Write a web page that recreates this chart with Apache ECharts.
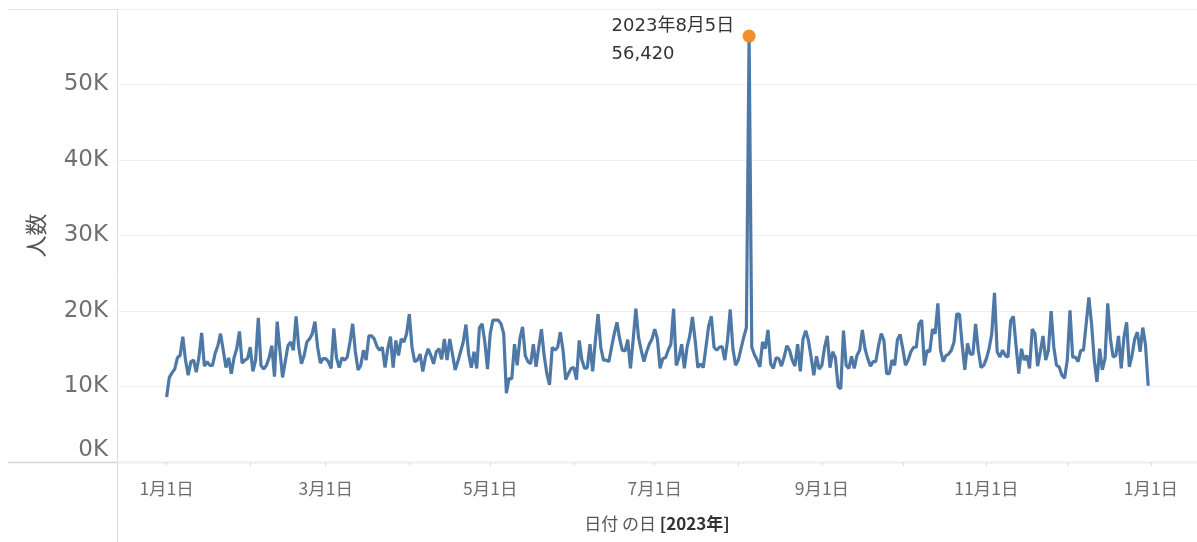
<!DOCTYPE html>
<html><head><meta charset="utf-8">
<script src="https://cdn.jsdelivr.net/npm/echarts@6/dist/echarts.min.js"></script>
<style>html,body{margin:0;padding:0;background:#fff}#c{width:1197px;height:542px}</style>
</head><body><div id="c"></div>
<script>
// Daily visitors (人数), 2023 — one array per month
const year = 2023;
const jan = [8600,11200,11800,12300,13800,14100,16600,13500,11500,13300,13500,11900,13900,17100,12700,13300,12800,12800,14400,15400,17000,14800,12500,13800,11700,13800,15000,17300,13100,13500,13700];
const feb = [15200,12000,13500,19100,12800,12300,12800,13800,15400,11300,18600,14800,11200,13300,15400,15900,14800,19300,15200,13000,14100,15900,16300,17000,18600,15200,13100,13700];
const mar = [13700,13300,12400,17700,13800,12500,13800,13500,13900,15900,18300,14600,12200,12800,14800,13500,16700,16700,16300,15300,14800,15200,12500,15000,16600,12500,16100,14100,16300,15900,17000];
const apr = [19600,15200,13300,13500,14300,12000,13900,15000,14100,13000,14600,15000,13600,16300,13500,16300,14300,12200,13300,14600,15900,18200,14300,12500,14600,12400,17800,18300,15900,12300];
const may = [17000,18800,18800,18800,18300,17000,9100,11100,11000,15600,12800,16300,17900,14100,13300,13000,15600,12600,15200,17600,14100,11700,10200,15200,14800,15200,17200,14800,10900,11700,12400];
const jun = [12500,10900,16100,13500,12400,12500,15600,12000,16100,19600,15200,13500,13500,13300,15200,17000,18500,16300,14800,14700,16200,12400,16100,20300,16500,14800,13300,14600,15600,16300];
const jul = [17600,16300,12400,13700,13800,14800,15600,20300,12800,13800,15600,12400,15200,16700,19200,16100,12500,13000,12500,15200,18000,19300,15200,14800,15200,15300,13500,16100,20200,15000,12800];
const aug = [13500,15000,16500,17800,56420,15200,14200,13500,12600,15900,15000,17500,13000,12400,13800,13700,12700,13900,15400,14800,13500,12700,15600,12000,16300,17400,16100,13900,11500,14000,12300];
const sep = [12800,15200,16700,12500,14600,13800,10000,9700,17400,12800,12400,14000,12400,14100,14800,17500,15000,13700,12700,13300,13300,15400,17000,16100,11700,11700,13500,12800,16200,16900];
const oct = [15000,12800,13500,14600,15200,15200,18300,18800,12800,14800,14600,17600,17000,21000,14800,13300,14100,14300,14800,15900,19600,19600,15600,12200,15700,14300,14300,18300,14800,12500,12800];
const nov = [13700,15000,17000,22400,14600,13900,14800,14100,13900,18700,19300,15400,11700,15000,13500,14100,12400,17600,17000,12700,14600,16700,13500,14800,20000,15200,12800,12600,11500,11100];
const dec = [13500,20100,13900,13900,13300,14800,14800,18300,21800,18300,13500,10600,15000,12200,13700,21000,16300,13900,14100,16700,12400,16500,18500,12600,14100,16300,17200,14600,17800,15500,10100];
const months = [jan, feb, mar, apr, may, jun, jul, aug, sep, oct, nov, dec];

const xLabelDates = ['2023-01-01','2023-03-01','2023-05-01','2023-07-01','2023-09-01','2023-11-01','2024-01-01'];
const xLabelTexts = ['1月1日','3月1日','5月1日','7月1日','9月1日','11月1日','1月1日'];
const xTickDates = ['2023-01-01','2023-02-01','2023-03-01','2023-04-01','2023-05-01','2023-06-01','2023-07-01','2023-08-01','2023-09-01','2023-10-01','2023-11-01','2023-12-01','2024-01-01'];
const yLabelValues = [0,10000,20000,30000,40000,50000];
const yLabelTexts = ['0K','10K','20K','30K','40K','50K'];

const DAY = 86400000;
const startUTC = Date.UTC(year,0,1);
function dayIndex(s){const p=s.split('-').map(Number);return Math.round((Date.UTC(p[0],p[1]-1,p[2])-startUTC)/DAY);}
const seriesData = [];
let di0 = 0;
months.forEach(arr=>arr.forEach(v=>{ seriesData.push([di0, v]); di0++; }));
let peak = seriesData[0];
seriesData.forEach(p=>{ if(p[1]>peak[1]) peak=p; });
const labelDays = xLabelDates.map(dayIndex);
const tickDays = xTickDates.map(dayIndex);

const latin = '"DejaVu Sans", "Noto Sans CJK JP", sans-serif';
const cjk = '"Noto Sans CJK JP", "DejaVu Sans", sans-serif';

const chart = echarts.init(document.getElementById('c'), null, {renderer:'canvas'});
chart.setOption({
  animation:false,
  backgroundColor:'#ffffff',
  grid:{left:117, right:0, top:9, bottom:80, containLabel:false},
  xAxis:{
    type:'value',
    min: -18.4,
    max: 382.1,
    axisLine:{show:false},
    axisTick:{show:true, customValues: tickDays, length:4, lineStyle:{color:'#dcdcdc'}},
    splitLine:{show:false},
    axisLabel:{
      customValues: labelDays,
      formatter: v => { const i = labelDays.indexOf(v); return i>=0 ? xLabelTexts[i] : ''; },
      color:'#6e6e6e', fontSize:17.5, fontFamily: cjk, margin:18
    },
    name:'{a|日付 の日 }{b|[2023年]}',
    nameLocation:'middle', nameGap:53,
    nameTextStyle:{
      rich:{
        a:{fontSize:17, color:'#555', fontFamily: cjk},
        b:{fontSize:17, color:'#333', fontWeight:'bold', fontFamily: cjk}
      }
    }
  },
  yAxis:{
    type:'value', min:0, max:60000, interval:10000,
    axisLine:{show:false},
    axisTick:{show:true, length:4, lineStyle:{color:'#ececec'}},
    splitLine:{show:true, lineStyle:{color:'#efefef', width:1}},
    axisLabel:{
      margin:9,
      formatter: v => { const i = yLabelValues.indexOf(v); if(i<0) return ''; return v===0 ? '{z|'+yLabelTexts[i]+'}' : yLabelTexts[i]; },
      color:'#707070', fontSize:23, fontFamily: latin,
      rich:{ z:{color:'#707070', fontSize:23, fontFamily: latin, padding:[0,0,24,0]} }
    },
    name:'人数', nameLocation:'middle', nameRotate:90, nameGap:70,
    nameTextStyle:{color:'#555', fontSize:22, fontFamily: cjk}
  },
  graphic:[
    {type:'line', silent:true, z:0, shape:{x1:8, y1:9.5, x2:1197, y2:9.5}, style:{stroke:'#e4e4e4', lineWidth:1}},
    {type:'line', silent:true, z:0, shape:{x1:8, y1:462.5, x2:1197, y2:462.5}, style:{stroke:'#d4d4d4', lineWidth:1.5}},
    {type:'line', silent:true, z:0, shape:{x1:117.5, y1:9, x2:117.5, y2:542}, style:{stroke:'#dedede', lineWidth:1}}
  ],
  series:[{
    type:'line',
    data: seriesData,
    showSymbol:false, symbol:'none',
    lineStyle:{color:'#4e79a7', width:3.2},
    itemStyle:{color:'#4e79a7'},
    z:3,
    markPoint:{
      symbol:'circle', symbolSize:13,
      itemStyle:{color:'#f28e2b'},
      data:[{coord: peak}],
      label:{
        show:true, position:[-131, 11], align:'left', verticalAlign:'middle',
        lineHeight:28, fontSize:18, color:'#333', fontFamily: latin,
        formatter: () => { const d=new Date(startUTC + peak[0]*DAY); return d.getUTCFullYear()+'年'+(d.getUTCMonth()+1)+'月'+d.getUTCDate()+'日\n'+peak[1].toLocaleString('en-US'); }
      }
    }
  }]
});
</script></body></html>
